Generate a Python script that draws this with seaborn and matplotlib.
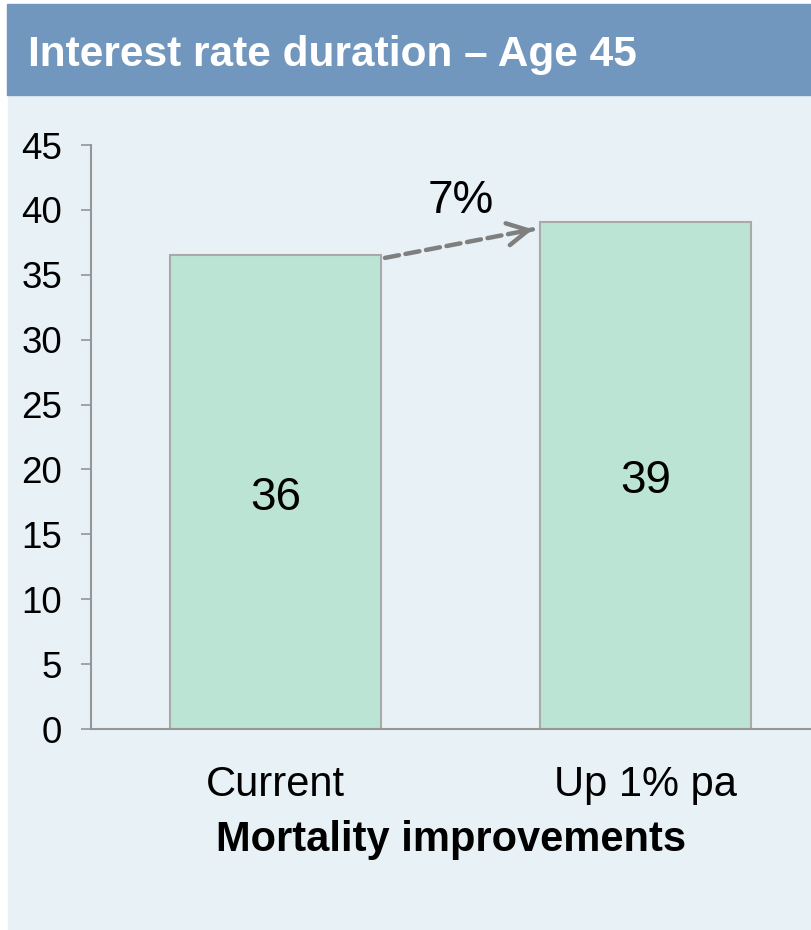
import numpy as np
import pandas as pd
import matplotlib
matplotlib.use("Agg")
import matplotlib.pyplot as plt
from matplotlib.patches import Rectangle
import seaborn as sns

# Interest rate duration at age 45 under two mortality improvement scenarios
scenarios = ["Current", "Up 1% pa"]
durations = [36.5, 39.1]
y_ticks = [0, 5, 10, 15, 20, 25, 30, 35, 40, 45]

title = "Interest rate duration \u2013 Age 45"
x_title = "Mortality improvements"

HEADER = "#7197BE"
PANEL = "#E8F1F5"
BAR = "#BCE4D5"
BAR_EDGE = "#A9A9A9"
AXIS = "#969696"
ARROW = "#7F7F7F"

sns.set_theme(style="white")
plt.rcParams["font.family"] = ["Liberation Sans", "DejaVu Sans"]
plt.rcParams.update({"text.color": "black", "axes.labelcolor": "black",
                     "xtick.color": "black", "ytick.color": "black"})

W, H, DPI = 812, 930, 100
fig = plt.figure(figsize=(W / DPI, H / DPI), dpi=DPI, facecolor="white")

# panel background and header band, kept behind the axes
fig.patches.append(Rectangle((8 / W, 0), 1 - 8 / W, (H - 95) / H,
                             transform=fig.transFigure, color=PANEL, zorder=-5))
fig.patches.append(Rectangle((7 / W, (H - 95) / H), 1 - 7 / W, 91 / H,
                             transform=fig.transFigure, color=HEADER, zorder=-5))
fig.text(28 / W, (H - 66) / H, title, color="white", fontsize=30.5,
         fontweight="bold", ha="left", va="baseline")

ax = fig.add_axes([91 / W, (H - 729) / H, 1 - 91 / W, (729 - 145) / H])
ax.patch.set_alpha(0)

df = pd.DataFrame({"scenario": scenarios, "duration": durations})
bar_w = 0.57
sns.barplot(data=df, x="scenario", y="duration", color=BAR, saturation=1,
            width=bar_w, edgecolor=BAR_EDGE, linewidth=1.5, ax=ax)

labels = ax.bar_label(ax.containers[0], labels=[f"{v:.0f}" for v in durations],
                      label_type="center", fontsize=33, color="black")
for t in labels:
    t.xyann = (0, -4)

ax.set_ylim(0, 45)
ax.set_xlim(-0.5, 1.45)
ax.set_yticks(y_ticks)
ax.tick_params(axis="y", direction="out", length=7.2, width=1.2, color=AXIS,
               labelcolor="black", labelsize=26.5, pad=13.5, left=True)
ax.tick_params(axis="x", length=0, labelcolor="black", labelsize=30, pad=26)

for side in ["top", "right"]:
    ax.spines[side].set_visible(False)
for side in ["left", "bottom"]:
    ax.spines[side].set_color(AXIS)
    ax.spines[side].set_linewidth(1.5)

ax.set_ylabel("")
ax.set_xlabel(x_title, fontsize=30, fontweight="bold", color="black", labelpad=11)

# percentage change arrow between the bars: dashed shaft, solid open head
pct = (durations[1] / durations[0] - 1) * 100
start = np.array([0 + bar_w / 2 + 0.01, durations[0] - 0.2])
end = np.array([1 - bar_w / 2 - 0.02, durations[1] - 0.6])
ax.annotate("", xy=end, xytext=start,
            arrowprops=dict(arrowstyle="-", color=ARROW, lw=3.2,
                            linestyle=(0, (3.2, 1.5)),
                            shrinkA=0, shrinkB=0))
ax.annotate("", xy=end, xytext=end - (end - start) * 0.04,
            arrowprops=dict(arrowstyle="->,head_length=0.75,head_width=0.4",
                            mutation_scale=20, color=ARROW, lw=3.2,
                            shrinkA=0, shrinkB=0))
ax.text(0.5, 40.7, f"{pct:.0f}%", fontsize=33, color="black",
        ha="center", va="center")

fig.savefig("out.png", dpi=DPI, facecolor=fig.get_facecolor())
